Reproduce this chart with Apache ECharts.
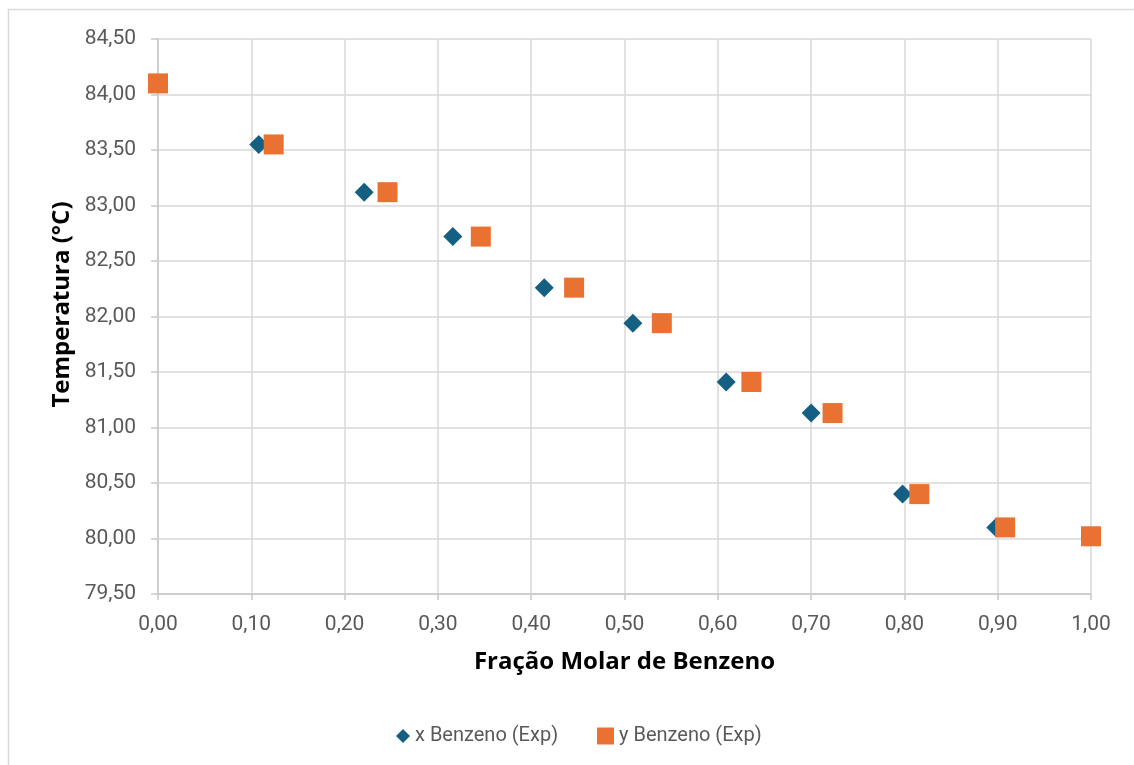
<!DOCTYPE html>
<html>
<head>
<meta charset="utf-8">
<script src="https://cdn.jsdelivr.net/npm/echarts@6/dist/echarts.min.js"></script>
<style>
  html, body { margin: 0; padding: 0; background: #ffffff; }
  #chart { width: 1134px; height: 765px; }
</style>
</head>
<body>
<div id="chart"></div>
<script>
// Liquid-phase mole fraction of benzene (x) and boiling temperature
const xBenzeno = [0.000, 0.108, 0.221, 0.316, 0.414, 0.509, 0.609, 0.700, 0.798, 0.898, 1.000];
const tLiquido = [84.10, 83.55, 83.12, 82.72, 82.26, 81.94, 81.41, 81.13, 80.40, 80.10, 80.02];

// Vapour-phase mole fraction of benzene (y) at the same temperatures
const yBenzeno = [0.000, 0.124, 0.246, 0.346, 0.446, 0.540, 0.636, 0.723, 0.816, 0.908, 1.000];
const tVapor   = [84.10, 83.55, 83.12, 82.72, 82.26, 81.94, 81.41, 81.13, 80.40, 80.10, 80.02];

const serieNomes = ['x Benzeno (Exp)', 'y Benzeno (Exp)'];
const eixoX = { min: 0, max: 1, passo: 0.1, titulo: 'Fração Molar de Benzeno' };
const eixoY = { min: 79.5, max: 84.5, passo: 0.5, titulo: 'Temperatura (°C)' };

const pares = (xs, ys) => xs.map((v, i) => [v, ys[i]]);
const virgula = v => v.toFixed(2).replace('.', ',');

const corTexto = '#595959';
const corGrade = '#d9d9d9';
const fonte = 'Roboto, "Liberation Sans", sans-serif';
const fonteTitulo = '"Open Sans", Roboto, sans-serif';

const chart = echarts.init(document.getElementById('chart'), null, { renderer: 'canvas' });

chart.setOption({
  backgroundColor: '#ffffff',
  animation: false,
  graphic: [{
    type: 'rect',
    shape: { x: 8.5, y: 9.5, width: 1200, height: 800 },
    style: { fill: 'none', stroke: corGrade, lineWidth: 1.5 },
    silent: true
  }],
  grid: { left: 158, right: 43, top: 39, bottom: 171 },
  legend: [{
    data: [serieNomes[0]],
    left: 391, top: 721,
    itemWidth: 14, itemHeight: 14,
    textStyle: { color: corTexto, fontSize: 20, fontFamily: fonte }
  }, {
    data: [serieNomes[1]],
    left: 592, top: 721,
    itemWidth: 17, itemHeight: 17,
    textStyle: { color: corTexto, fontSize: 20, fontFamily: fonte }
  }],
  xAxis: {
    type: 'value',
    min: eixoX.min, max: eixoX.max, interval: eixoX.passo,
    name: eixoX.titulo,
    nameLocation: 'middle',
    nameGap: 56,
    nameTextStyle: { color: '#000000', fontSize: 24, fontWeight: 'bold', fontFamily: fonteTitulo },
    axisLine: { show: true, lineStyle: { color: '#c8c8c8', width: 1.5 } },
    axisTick: { show: true, length: 6, lineStyle: { color: '#c8c8c8', width: 1.5 } },
    axisLabel: { color: corTexto, fontSize: 21, fontFamily: fonte, margin: 20, formatter: virgula },
    splitLine: { show: true, lineStyle: { color: corGrade, width: 1.5 } }
  },
  yAxis: {
    type: 'value',
    min: eixoY.min, max: eixoY.max, interval: eixoY.passo,
    name: eixoY.titulo,
    nameLocation: 'middle',
    nameGap: 84,
    nameTextStyle: { color: '#000000', fontSize: 24, fontWeight: 'bold', fontFamily: fonteTitulo, padding: [0, 0, 0, 24] },
    axisLine: { show: true, lineStyle: { color: '#c8c8c8', width: 1.5 } },
    axisTick: { show: true, length: 7, lineStyle: { color: '#c8c8c8', width: 1.5 } },
    axisLabel: { color: corTexto, fontSize: 21, fontFamily: fonte, margin: 22, formatter: virgula },
    splitLine: { show: true, lineStyle: { color: corGrade, width: 1.5 } }
  },
  series: [{
    name: serieNomes[0],
    type: 'scatter',
    symbol: 'diamond',
    symbolSize: 19,
    itemStyle: { color: '#156082', opacity: 1 },
    data: pares(xBenzeno, tLiquido)
  }, {
    name: serieNomes[1],
    type: 'scatter',
    symbol: 'rect',
    symbolSize: 20,
    itemStyle: { color: '#e97132', opacity: 1 },
    data: pares(yBenzeno, tVapor)
  }]
});
</script>
</body>
</html>
